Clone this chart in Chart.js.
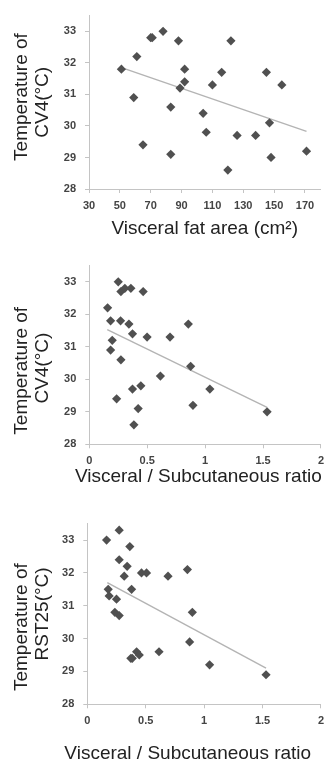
<!DOCTYPE html>
<html><head><meta charset="utf-8">
<script src="https://cdn.jsdelivr.net/npm/chart.js@4/dist/chart.umd.min.js"></script>
<style>
html,body{margin:0;padding:0;background:#fff;overflow:hidden;width:325px;height:765px;}
canvas{position:absolute;left:0;}
</style></head><body>
<canvas id="c1" width="325" height="250" style="top:0px"></canvas>
<canvas id="c2" width="330" height="250" style="top:250px"></canvas>
<canvas id="c3" width="330" height="265" style="top:500px"></canvas>
<script>
// ---- Data ----
// Plot 1: Visceral fat area vs temperature of CV4
const vfa = [51, 59, 61, 65, 70, 71, 78, 83, 83, 88, 89, 92, 92, 104, 106, 110, 116, 120, 122, 126, 138, 145, 147, 148, 155, 171];
const cv4A = [31.8, 30.9, 32.2, 29.4, 32.8, 32.8, 33.0, 30.6, 29.1, 32.7, 31.2, 31.4, 31.8, 30.4, 29.8, 31.3, 31.7, 28.6, 32.7, 29.7, 29.7, 31.7, 30.1, 29.0, 31.3, 29.2];
const trend1X = [50.6, 171];
const trend1Y = [31.86, 29.83];

// Plot 2: Visceral / Subcutaneous ratio vs temperature of CV4
const ratioB = [0.25, 0.273, 0.307, 0.359, 0.465, 0.158, 0.184, 0.27, 0.342, 0.373, 0.499, 0.198, 0.184, 0.273, 0.614, 0.373, 0.445, 0.236, 0.422, 0.385, 0.697, 0.855, 0.875, 0.895, 1.041, 1.535];
const cv4B = [33.0, 32.7, 32.8, 32.8, 32.7, 32.2, 31.8, 31.8, 31.7, 31.4, 31.3, 31.2, 30.9, 30.6, 30.1, 29.7, 29.8, 29.4, 29.1, 28.6, 31.3, 31.7, 30.4, 29.2, 29.7, 29.0];
const trend2X = [0.155, 1.535];
const trend2Y = [31.53, 29.14];

// Plot 3: Visceral / Subcutaneous ratio vs temperature of RST25
const ratioC = [0.165, 0.273, 0.364, 0.273, 0.341, 0.316, 0.464, 0.507, 0.179, 0.187, 0.25, 0.236, 0.273, 0.379, 0.691, 0.857, 0.899, 0.876, 1.047, 1.53, 0.614, 0.373, 0.385, 0.422, 0.445];
const rst25 = [33.0, 33.3, 32.8, 32.4, 32.2, 31.9, 32.0, 32.0, 31.5, 31.3, 31.2, 30.8, 30.7, 31.5, 31.9, 32.1, 30.8, 29.9, 29.2, 28.9, 29.6, 29.4, 29.4, 29.6, 29.5];
const trend3X = [0.171, 1.53];
const trend3Y = [31.70, 29.10];

// Tick values
const xTicks1 = [30, 50, 70, 90, 110, 130, 150, 170];
const xTicksRatio = [0, 0.5, 1, 1.5, 2];
const yTicks = [28, 29, 30, 31, 32, 33];

// Axis labels (spaces only nudge the text like the reference layout)
const yTitle1 = ['  Temperature of', 'CV4(°C)'];
const yTitle2 = ['Temperature of      ', 'CV4(°C)     '];
const yTitle3 = ['Temperature of     ', 'RST25(°C)'];
const xTitle1 = 'Visceral fat area (cm²)';
const xTitle2 = 'Visceral / Subcutaneous ratio';
const xTitle3 = 'Visceral / Subcutaneous ratio  ';

const FONT = "'Liberation Sans', Arial, sans-serif";

function pts(xs, ys){ return xs.map((x,i)=>({x:x, y:ys[i]})); }

function makeChart(id, xs, ys, tx, ty, o){
  const titleFont = { family: FONT, size: 19, weight: 'normal', lineHeight: 1.1 };
  return new Chart(document.getElementById(id), {
    type: 'scatter',
    data: {
      datasets: [
        { data: pts(tx, ty), showLine: true, borderColor: '#b4b4b4', borderWidth: 1.4,
          pointRadius: 0, pointHoverRadius: 0, fill: false, order: 2 },
        { data: pts(xs, ys), pointStyle: 'rectRot', pointRadius: 4.6,
          backgroundColor: '#505050', borderColor: '#505050', borderWidth: 0, order: 1 }
      ]
    },
    options: {
      responsive: false, animation: false,
      layout: { padding: { left: 0, right: o.padRight, top: o.padTop, bottom: 0 } },
      plugins: {
        legend: { display: false }, tooltip: { enabled: false },
        title: o.bottomTitle ? { display: true, position: 'bottom', align: 'end', text: o.bottomTitle,
                 color: '#222', font: titleFont, padding: { top: 0, bottom: o.xTitlePad } } : { display: false }
      },
      scales: {
        x: {
          type: 'linear', min: o.xMin, max: o.xMax,
          afterBuildTicks: s => { s.ticks = o.xTicks.map(v => ({ value: v })); },
          afterFit: s => { s.height = o.xHeight; },
          ticks: { color: '#444', padding: 6, maxRotation: 0, autoSkip: false,
                   callback: v => String(v),
                   font: { family: FONT, size: 11, weight: 'bold' } },
          grid: { display: true, drawOnChartArea: false, drawTicks: true, tickLength: 4, color: '#c4c4c4' },
          border: { display: true, color: '#c4c4c4', width: 1 },
          title: o.xTitle ? { display: true, text: o.xTitle, color: '#222',
                   font: titleFont, padding: { top: 0, bottom: o.xTitlePad } } : { display: false }
        },
        y: {
          type: 'linear', min: 28, max: 33.5,
          afterBuildTicks: s => { s.ticks = yTicks.map(v => ({ value: v })); },
          afterFit: s => { s.width = o.yWidth; },
          ticks: { color: '#444', padding: 9, callback: v => String(v),
                   font: { family: FONT, size: 11, weight: 'bold' } },
          grid: { display: true, drawOnChartArea: false, drawTicks: true, tickLength: 4, color: '#c4c4c4' },
          border: { display: true, color: '#c4c4c4', width: 1 },
          title: { display: true, text: o.yTitle, color: '#222',
                   font: titleFont, padding: { top: 11.5, bottom: 0 } }
        }
      }
    }
  });
}

makeChart('c1', vfa, cv4A, trend1X, trend1Y, {
  xMin: 30, xMax: 180, xTicks: xTicks1,
  padRight: 4.6, padTop: 6.4, xHeight: 61, yWidth: 89,
  xTitle: xTitle1, yTitle: yTitle1, xTitlePad: 10.5
});
makeChart('c2', ratioB, cv4B, trend2X, trend2Y, {
  xMin: 0, xMax: 2, xTicks: xTicksRatio,
  padRight: 8.3, padTop: 12.8, xHeight: 21.95, yWidth: 89.3,
  bottomTitle: xTitle2, yTitle: yTitle2, xTitlePad: 12.85
});
makeChart('c3', ratioC, rst25, trend3X, trend3Y, {
  xMin: 0, xMax: 2, xTicks: xTicksRatio,
  padRight: 8.3, padTop: 23.6, xHeight: 39.25, yWidth: 87.3,
  bottomTitle: xTitle3, yTitle: yTitle3, xTitlePad: 0.55
});
</script>
</body></html>
